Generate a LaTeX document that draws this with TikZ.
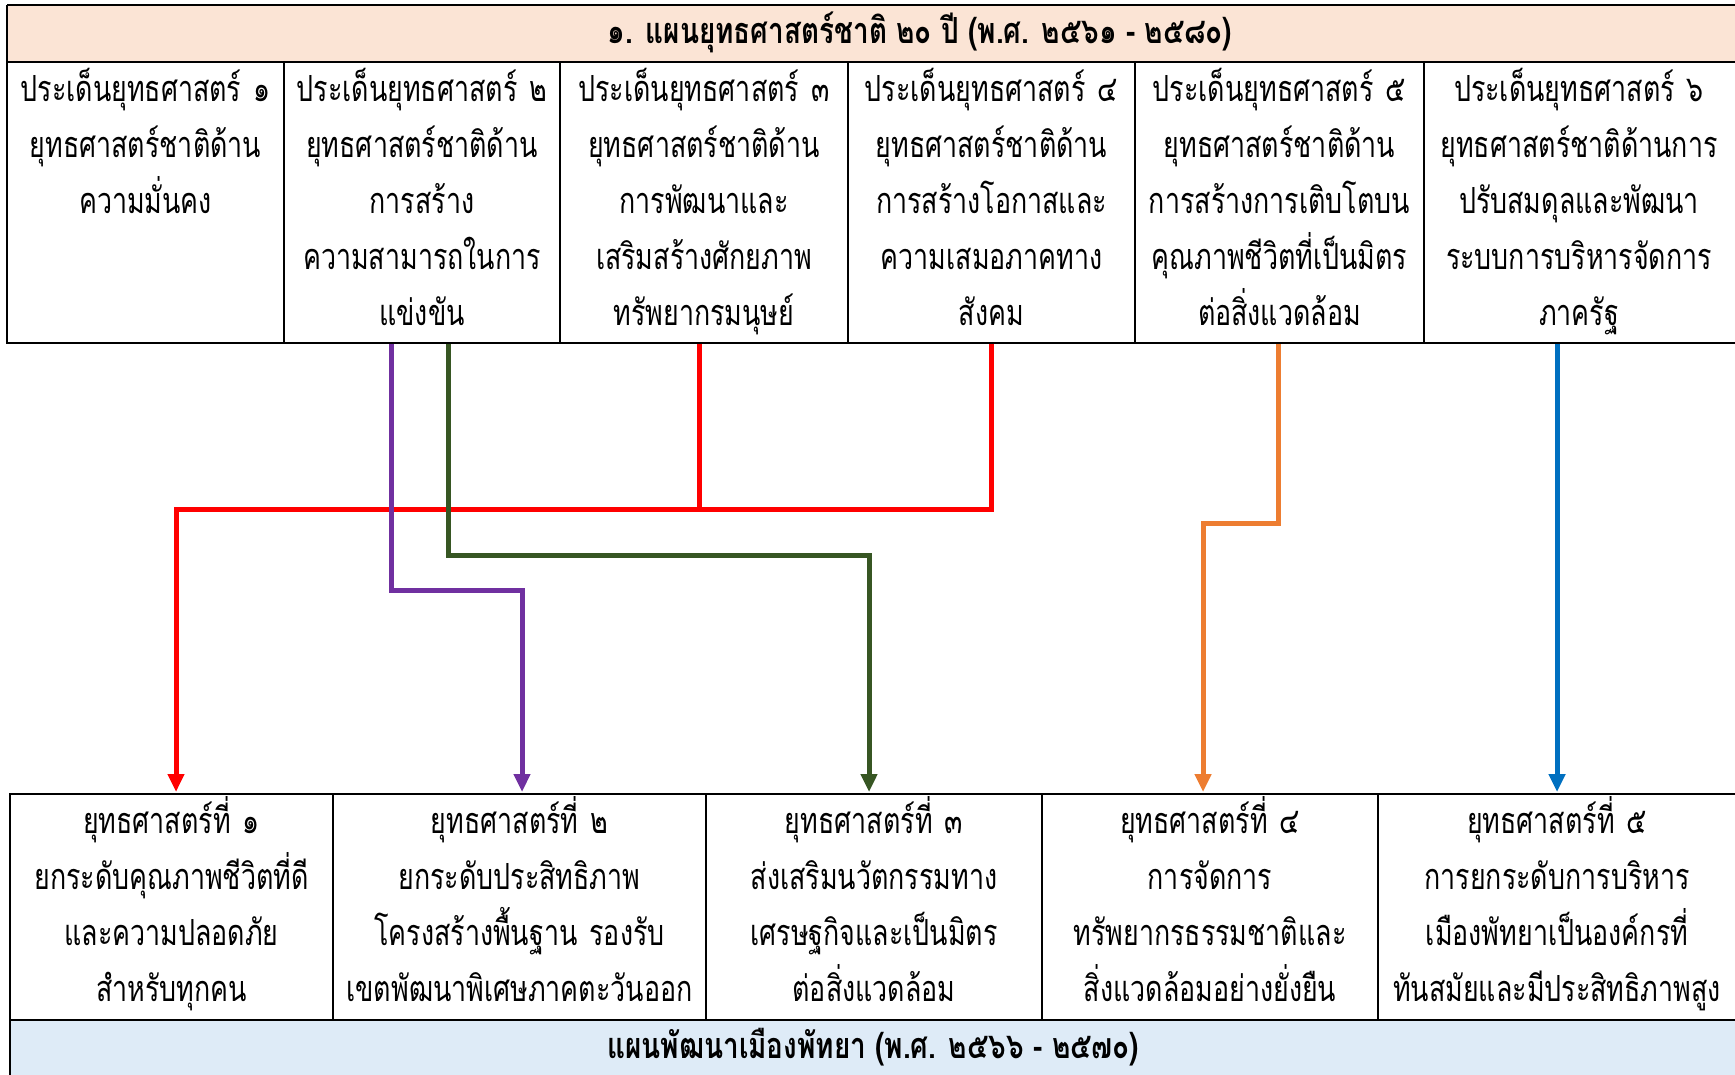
\documentclass[tikz,border=0pt]{standalone}
\usepackage{fontspec}
\newfontfamily\thaifont[Script=Thai,FakeStretch=0.745]{Loma}
\newfontfamily\thaihead[Script=Thai,FakeStretch=0.775]{Loma}
\usetikzlibrary{arrows.meta}
\definecolor{hdrA}{RGB}{251,228,213}
\definecolor{hdrB}{RGB}{222,235,247}
\definecolor{cRed}{RGB}{255,0,0}
\definecolor{cPurple}{RGB}{112,48,160}
\definecolor{cGreen}{RGB}{55,86,35}
\definecolor{cOrange}{RGB}{237,125,49}
\definecolor{cBlue}{RGB}{0,112,192}
\tikzset{
  cellbox/.style={draw=black, line width=0.75pt, fill=white, inner sep=0pt, outer sep=0pt, anchor=north west},
  thickrule/.style={draw=black, line width=1.3pt},
  celltext/.style={anchor=base, align=center, text width=220pt, inner sep=0pt,
    font=\thaifont\fontsize{18}{28}\selectfont},
  hdrtext/.style={anchor=base, inner sep=0pt, font=\thaihead\bfseries\fontsize{18}{28}\selectfont},
  linkline/.style={line width=2.5pt},
  conn/.style={line width=2.5pt, -{Triangle[length=9pt,width=8pt]}}
}
\begin{document}
\begin{tikzpicture}[x=0.5pt,y=-0.5pt]
\useasboundingbox (0,0) rectangle (1735,1075);
\fill[white] (0,0) rectangle (1735,1075);

% ---------- top table ----------
\fill[hdrA] (7,5) rectangle (1760,62);
\node[cellbox, minimum width=138.5pt, minimum height=140.5pt] (t1) at (7,62) {};
\node[cellbox, minimum width=138pt,   minimum height=140.5pt] (t2) at (284,62) {};
\node[cellbox, minimum width=144pt,   minimum height=140.5pt] (t3) at (560,62) {};
\node[cellbox, minimum width=143.5pt, minimum height=140.5pt] (t4) at (848,62) {};
\node[cellbox, minimum width=144.5pt, minimum height=140.5pt] (t5) at (1135,62) {};
\node[cellbox, minimum width=170pt,   minimum height=140.5pt] (t6) at (1424,62) {};
\draw[thickrule] (7,5) -- (1760,5);
\draw[thickrule] (7,62) -- (1760,62);
\draw[thickrule] (7,343) -- (1760,343);
\draw[thickrule] (7,5) -- (7,343);

\node[hdrtext] (h1) at (920,44) {๑. แผนยุทธศาสตร์ชาติ ๒๐ ปี (พ.ศ. ๒๕๖๑ - ๒๕๘๐)};

\node[celltext] (t1x) at (145.5,102) {ประเด็นยุทธศาสตร์ ๑\\ยุทธศาสตร์ชาติด้าน\\ความมั่นคง};
\node[celltext] (t2x) at (422,102) {ประเด็นยุทธศาสตร์ ๒\\ยุทธศาสตร์ชาติด้าน\\การสร้าง\\ความสามารถในการ\\แข่งขัน};
\node[celltext] (t3x) at (704,102) {ประเด็นยุทธศาสตร์ ๓\\ยุทธศาสตร์ชาติด้าน\\การพัฒนาและ\\เสริมสร้างศักยภาพ\\ทรัพยากรมนุษย์};
\node[celltext] (t4x) at (991.5,102) {ประเด็นยุทธศาสตร์ ๔\\ยุทธศาสตร์ชาติด้าน\\การสร้างโอกาสและ\\ความเสมอภาคทาง\\สังคม};
\node[celltext] (t5x) at (1279.5,102) {ประเด็นยุทธศาสตร์ ๕\\ยุทธศาสตร์ชาติด้าน\\การสร้างการเติบโตบน\\คุณภาพชีวิตที่เป็นมิตร\\ต่อสิ่งแวดล้อม};
\node[celltext] (t6x) at (1579,102) {ประเด็นยุทธศาสตร์ ๖\\ยุทธศาสตร์ชาติด้านการ\\ปรับสมดุลและพัฒนา\\ระบบการบริหารจัดการ\\ภาครัฐ};

% ---------- bottom table ----------
\fill[hdrB] (10,1020) rectangle (1760,1090);
\node[cellbox, minimum width=161.5pt, minimum height=113pt] (b1) at (10,794) {};
\node[cellbox, minimum width=186.5pt, minimum height=113pt] (b2) at (333,794) {};
\node[cellbox, minimum width=168pt,   minimum height=113pt] (b3) at (706,794) {};
\node[cellbox, minimum width=168pt,   minimum height=113pt] (b4) at (1042,794) {};
\node[cellbox, minimum width=190pt,   minimum height=113pt] (b5) at (1378,794) {};
\draw[thickrule] (10,794) -- (1760,794);
\draw[thickrule] (10,1020) -- (1760,1020);
\draw[thickrule] (10,794) -- (10,1090);

\node[celltext] (b1x) at (171.5,833) {ยุทธศาสตร์ที่ ๑\\ยกระดับคุณภาพชีวิตที่ดี\\และความปลอดภัย\\สำหรับทุกคน};
\node[celltext] (b2x) at (519.5,833) {ยุทธศาสตร์ที่ ๒\\ยกระดับประสิทธิภาพ\\โครงสร้างพื้นฐาน รองรับ\\เขตพัฒนาพิเศษภาคตะวันออก};
\node[celltext] (b3x) at (874,833) {ยุทธศาสตร์ที่ ๓\\ส่งเสริมนวัตกรรมทาง\\เศรษฐกิจและเป็นมิตร\\ต่อสิ่งแวดล้อม};
\node[celltext] (b4x) at (1210,833) {ยุทธศาสตร์ที่ ๔\\การจัดการ\\ทรัพยากรธรรมชาติและ\\สิ่งแวดล้อมอย่างยั่งยืน};
\node[celltext] (b5x) at (1557,833) {ยุทธศาสตร์ที่ ๕\\การยกระดับการบริหาร\\เมืองพัทยาเป็นองค์กรที่\\ทันสมัยและมีประสิทธิภาพสูง};

\node[hdrtext] (h2) at (873,1058) {แผนพัฒนาเมืองพัทยา (พ.ศ. ๒๕๖๖ - ๒๕๗๐)};

% ---------- connectors ----------
\coordinate (rA) at (699,344);
\coordinate (rB) at (991,344);
\coordinate (pS) at (391,344);
\coordinate (gS) at (448,344);
\coordinate (oS) at (1278,344);
\coordinate (bS) at (1557,344);
\coordinate (rE) at (176,792);
\coordinate (pE) at (522,792);
\coordinate (gE) at (869,792);
\coordinate (oE) at (1203,792);
\coordinate (bE) at (1557,792);

\draw[linkline, cRed] (rA) -- ++(0,165);
\draw[conn, cRed] (rB) -- ++(0,165) -| (rE);
\draw[conn, cPurple] (pS) -- ++(0,246) -| (pE);
\draw[conn, cGreen] (gS) -- ++(0,211) -| (gE);
\draw[conn, cOrange] (oS) -- ++(0,179) -| (oE);
\draw[conn, cBlue] (bS) -- (bE);
\end{tikzpicture}
\end{document}
